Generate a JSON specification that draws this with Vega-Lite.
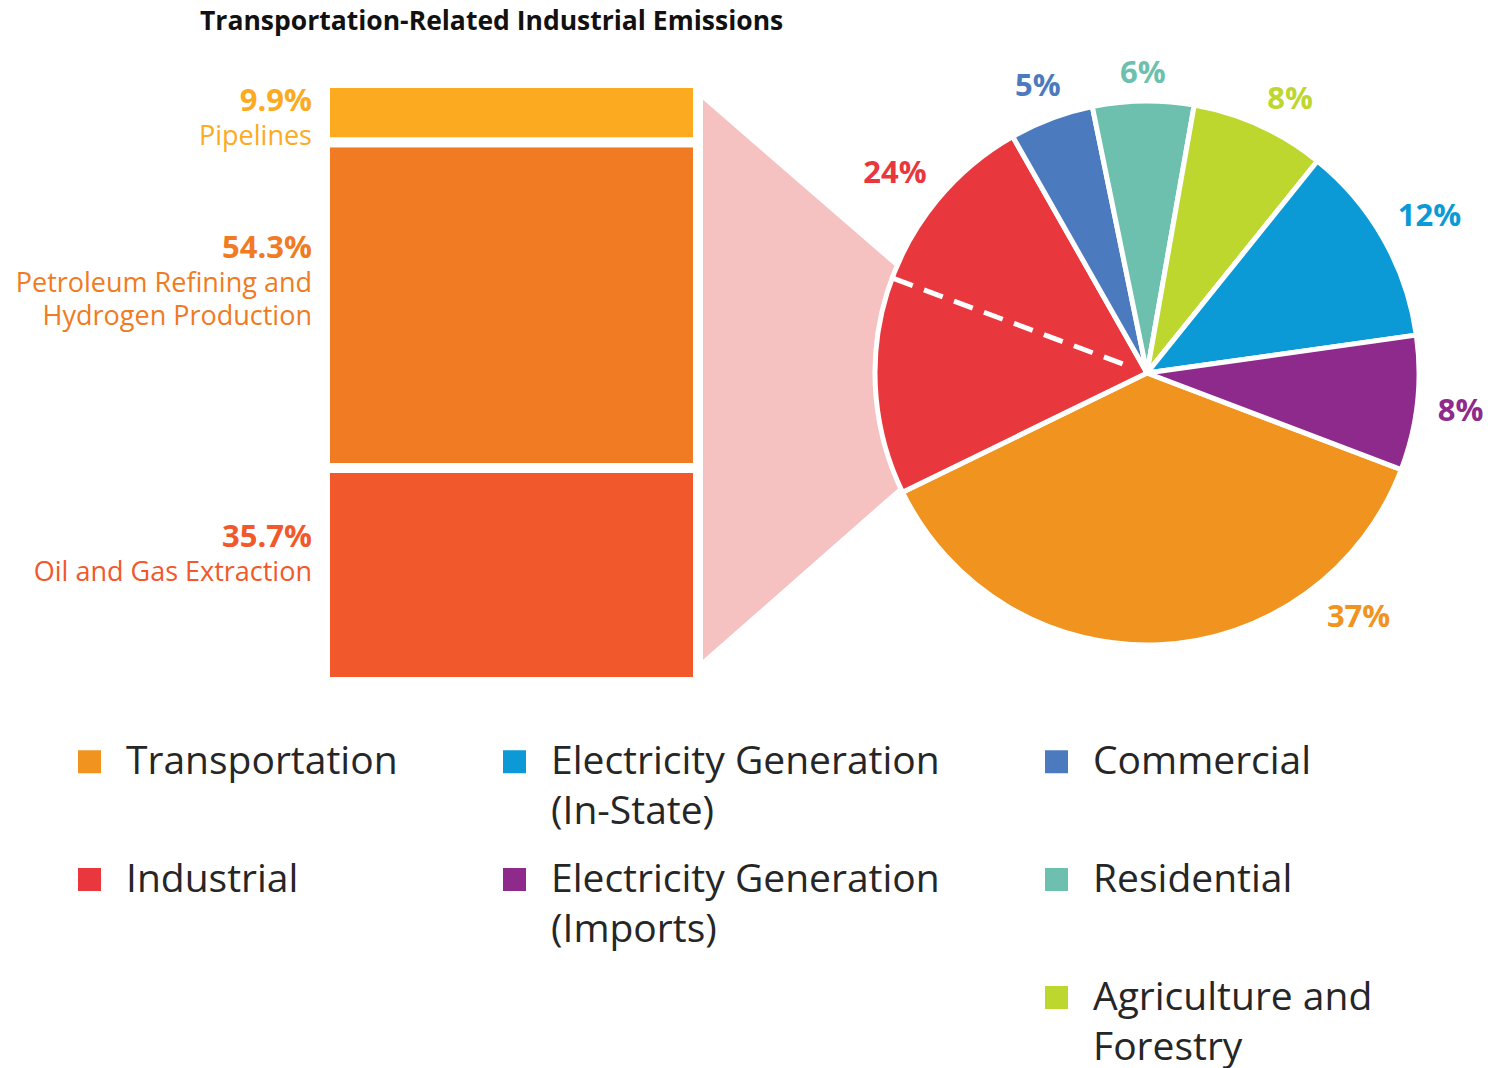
{
  "$schema": "https://vega.github.io/schema/vega-lite/v6.json",
  "background": "white",
  "padding": {"top": 8, "left": 0, "right": 0, "bottom": 0},
  "title": {
    "text": "Transportation-Related Industrial Emissions",
    "anchor": "start",
    "dx": 200,
    "offset": 10,
    "font": "Open Sans",
    "fontSize": 26.5,
    "fontWeight": "bold",
    "color": "#111111"
  },
  "bounds": "flush",
  "spacing": 0,
  "resolve": {"scale": {"color": "independent"}, "legend": {"color": "independent"}},
  "config": {
    "view": {"stroke": null},
    "font": "Open Sans",
    "style": {"guide-label": {"lineHeight": 50}}
  },
  "hconcat": [
    {
      "width": 905,
      "height": 656,
      "layer": [
        {
          "data": {"values": [
            {"side": 1.0134, "upper": 97.1, "lower": 3.7},
            {"side": 1.54, "upper": 68.7, "lower": 32.5}
          ]},
          "mark": {"type": "area", "color": "#F6C1C1", "opacity": 1},
          "encoding": {
            "x": {"field": "side", "type": "quantitative", "scale": {"domain": [-0.8713, 1.555], "nice": false, "zero": false}, "axis": null},
            "y": {"field": "upper", "type": "quantitative", "scale": {"domain": [-3.168, 106.238], "nice": false, "zero": false}, "axis": null},
            "y2": {"field": "lower"}
          }
        },
        {
          "data": {"values": [
            {"segment": "Oil and Gas Extraction", "share": 35.7},
            {"segment": "Petroleum Refining and Hydrogen Production", "share": 54.3},
            {"segment": "Pipelines", "share": 9.9}
          ]},
          "transform": [
            {"stack": "share", "groupby": [], "as": ["s0", "s1"]},
            {"calculate": "datum.s0 + 0.67 * (datum.s1 - datum.s0)", "as": "labelAt"},
            {"calculate": "format(datum.share, '.1f') + '%'", "as": "pctText"},
            {"calculate": "datum.segment == 'Petroleum Refining and Hydrogen Production' ? ['Petroleum Refining and', 'Hydrogen Production'] : datum.segment", "as": "nameText"}
          ],
          "layer": [
            {
              "mark": {"type": "rect", "stroke": "white", "strokeWidth": 10},
              "encoding": {
                "x": {"datum": 0, "type": "quantitative", "scale": {"domain": [-0.8713, 1.555], "nice": false, "zero": false}, "axis": null},
                "x2": {"datum": 1},
                "y": {"field": "s1", "type": "quantitative", "scale": {"domain": [-3.168, 106.238], "nice": false, "zero": false}, "axis": null},
                "y2": {"field": "s0"},
                "color": {"field": "segment", "type": "nominal", "legend": null,
                  "scale": {"domain": ["Pipelines", "Petroleum Refining and Hydrogen Production", "Oil and Gas Extraction"], "range": ["#FCAA1F", "#F07B22", "#F1582B"]}}
              }
            },
            {
              "mark": {"type": "text", "align": "right", "baseline": "middle", "dx": -13, "dy": -1, "fontSize": 31, "fontWeight": "bold"},
              "encoding": {
                "x": {"datum": 0, "type": "quantitative"},
                "y": {"field": "labelAt", "type": "quantitative"},
                "text": {"field": "pctText", "type": "nominal"},
                "color": {"field": "segment", "type": "nominal", "legend": null}
              }
            },
            {
              "mark": {"type": "text", "align": "right", "baseline": "middle", "dx": -13, "dy": 34, "fontSize": 27, "lineHeight": 33},
              "encoding": {
                "x": {"datum": 0, "type": "quantitative"},
                "y": {"field": "labelAt", "type": "quantitative"},
                "text": {"field": "nameText", "type": "nominal"},
                "color": {"field": "segment", "type": "nominal", "legend": null}
              }
            }
          ]
        }
      ]
    },
    {
      "width": 484,
      "height": 656,
      "data": {"values": [
        {"sector": "Transportation", "value": 37},
        {"sector": "Industrial", "value": 24, "transport_related": 12.9},
        {"sector": "Commercial", "value": 5},
        {"sector": "Residential", "value": 6},
        {"sector": "Agriculture and Forestry", "value": 8},
        {"sector": "Electricity Generation (In-State)", "value": 12},
        {"sector": "Electricity Generation (Imports)", "value": 8}
      ]},
      "transform": [
        {"stack": "value", "groupby": [], "as": ["s0", "s1"]},
        {"calculate": "datum.sector == 'Transportation' ? datum.s0 + 0.21 * datum.value : datum.sector == 'Industrial' ? datum.s0 + 0.75 * datum.value : datum.sector == 'Agriculture and Forestry' ? datum.s0 + 0.6 * datum.value : (datum.s0 + datum.s1) / 2", "as": "labelAt"},
        {"calculate": "292 + (datum.value >= 10 ? 31.5 : 22.5) * abs(sin(1.9338 + datum.labelAt * 0.0628319)) + 11 * abs(cos(1.9338 + datum.labelAt * 0.0628319))", "as": "labelRadius"},
        {"calculate": "datum.value + '%'", "as": "pctText"}
      ],
      "layer": [
        {
          "mark": {"type": "arc", "outerRadius": 272, "stroke": "white", "strokeWidth": 5},
          "encoding": {
            "theta": {"field": "s0", "type": "quantitative", "stack": null, "scale": {"domain": [0, 100], "range": [1.9338, 8.217]}},
            "theta2": {"field": "s1"},
            "color": {
              "field": "sector", "type": "nominal",
              "scale": {
                "domain": ["Transportation", "Industrial", " ", "Electricity Generation (In-State)", "Electricity Generation (Imports)", "  ", "Commercial", "Residential", "Agriculture and Forestry"],
                "range": ["#F0931F", "#E8383D", "rgba(0,0,0,0)", "#0B9AD6", "#8E2A8C", "rgba(0,0,0,0)", "#4B7BBE", "#6DBFAE", "#BDD72F"]
              },
              "legend": {
                "orient": "none",
                "legendX": -835,
                "legendY": 697,
                "direction": "vertical",
                "columns": 3,
                "title": null,
                "padding": 0,
                "symbolType": "square",
                "symbolSize": 529,
                "symbolStrokeWidth": 0,
                "labelFont": "Open Sans",
                "labelFontSize": 39,
                "labelColor": "#262626",
                "labelLimit": 800,
                "labelOffset": 17,
                "columnPadding": 97,
                "rowPadding": 28,
                "labelExpr": "datum.label == 'Electricity Generation (In-State)' ? ['Electricity Generation', '(In-State)'] : datum.label == 'Electricity Generation (Imports)' ? ['Electricity Generation', '(Imports)'] : datum.label == 'Agriculture and Forestry' ? ['Agriculture and', 'Forestry'] : [datum.label, ' ']"
              }
            }
          }
        },
        {
          "transform": [
            {"filter": "isValid(datum.transport_related)"},
            {"calculate": "datum.s0 + datum.transport_related", "as": "split"}
          ],
          "mark": {"type": "arc", "filled": false, "stroke": "white", "strokeWidth": 5, "strokeDash": [20, 12], "strokeDashOffset": 30, "outerRadius": 272, "innerRadius": 20},
          "encoding": {
            "theta": {"field": "split", "type": "quantitative", "stack": null},
            "theta2": {"field": "split"}
          }
        },
        {
          "mark": {"type": "text", "fontSize": 31, "fontWeight": "bold", "align": "center", "baseline": "middle", "dy": 4},
          "encoding": {
            "theta": {"field": "labelAt", "type": "quantitative", "stack": null},
            "radius": {"field": "labelRadius", "type": "quantitative", "scale": {"type": "linear", "domain": [0, 1000], "range": [0, 1000], "zero": true, "nice": false}},
            "text": {"field": "pctText", "type": "nominal"},
            "color": {"field": "sector", "type": "nominal", "legend": null}
          }
        }
      ]
    }
  ]
}
